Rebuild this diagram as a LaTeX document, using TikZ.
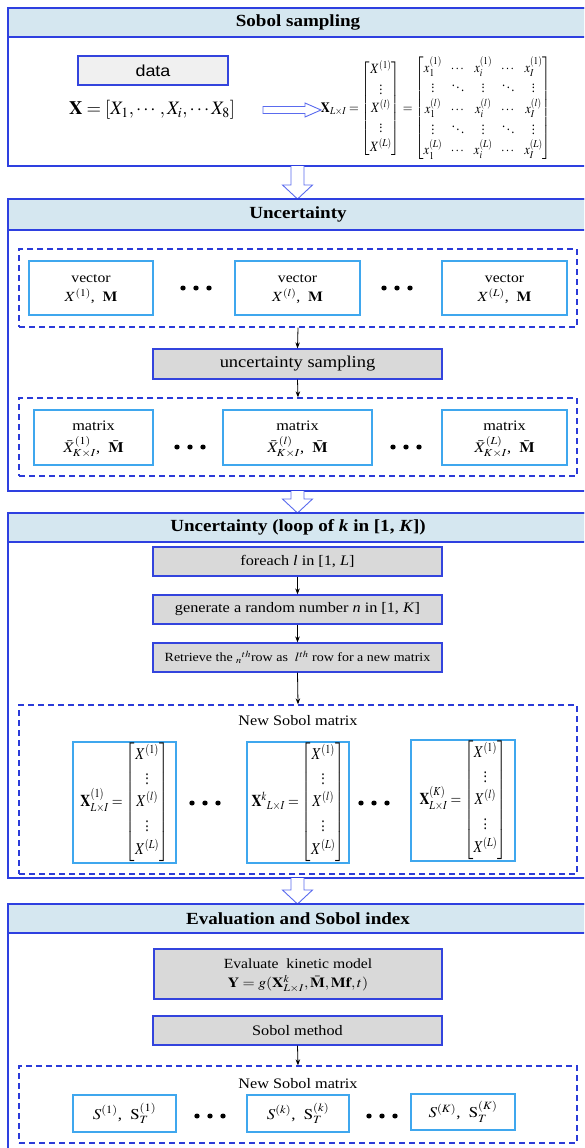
\documentclass[tikz,border=0pt]{standalone}
\usepackage{amsmath}
\usepackage{mathptmx}
\usepackage{fontspec}
\setmainfont{Liberation Serif}
\newfontfamily\arialf{Liberation Sans}
\usetikzlibrary{arrows.meta,calc}
\definecolor{secblue}{HTML}{2E40E0}
\definecolor{headfill}{HTML}{D5E7F0}
\definecolor{dashblue}{HTML}{2B3BD8}
\definecolor{innerblue}{HTML}{3FA7EE}
\definecolor{boxblue}{HTML}{3344DD}
\definecolor{grayfill}{HTML}{D9D9D9}
\definecolor{datafill}{HTML}{F0F0F0}
\definecolor{arrowblue}{HTML}{5A6BEE}
\newcommand\hsx[1]{\scalebox{1.12}[1]{#1}}
\newcommand\twoline[2]{\begin{tabular}{@{}c@{}}#1\\#2\end{tabular}}
\newcommand\boxat[7]{\node[#2, minimum width={#5pt-#3pt}, minimum height={#6pt-#4pt}] (#1) at ({(#3+#5)/2},{(#4+#6)/2}) {#7};}
\newcommand\threedots[3]{\node[inner sep=0pt,minimum size=0pt] (#1) at (#2,#3) {};
  \foreach \dx in {-13,0,13} \fill ($(#1)+(\dx,0)$) circle[x radius=2.7, y radius=2.5];}
\newcommand\hollowdown[3]{\draw[hollow] ($(#1)+(-6.5,0)$) -- ++(0,#2) -- ++(-8.5,0) -- ++(15,#3) -- ++(15,-#3) -- ++(-8.5,0) -- ++(0,-#2);}
\begin{document}
\begin{tikzpicture}[x=1pt,y=-1pt,
 sect/.style={draw=secblue,line width=1.4pt,inner sep=0pt},
 headbox/.style={draw=secblue,fill=headfill,line width=1.4pt,inner sep=0pt},
 ttl/.style={inner sep=0pt,font=\fontsize{17}{20}\selectfont\bfseries},
 dbox/.style={draw=dashblue,line width=1.3pt,dash pattern=on 6pt off 4pt,inner sep=0pt},
 vbox/.style={draw=innerblue,line width=1.3pt,fill=white,inner sep=0pt,font=\fontsize{14}{19}\selectfont},
 gbox/.style={draw=boxblue,fill=grayfill,line width=1.2pt,inner sep=0pt,font=\fontsize{14.5}{19}\selectfont},
 databox/.style={draw=boxblue,fill=datafill,line width=1.2pt,inner sep=0pt,font=\fontsize{16}{19}\selectfont},
 txt/.style={inner sep=0pt,font=\fontsize{14.5}{18}\selectfont},
 arr/.style={-{Stealth[length=6pt,width=4.5pt]},line width=0.8pt},
 hollow/.style={draw=arrowblue,fill=white,line width=0.9pt,line join=miter}
]
\useasboundingbox (0,0) rectangle (584,1148);
\begin{scope}
\clip (0,0) rectangle (584,1148);
% ---------- Section 1 ----------
\boxat{s1}{sect}{8}{8}{620}{166}{}
\boxat{h1}{headbox}{8}{8}{620}{37}{}
\node[ttl] (t1) at (298,22.5) {\hsx{Sobol sampling}};
\boxat{data}{databox}{78}{56}{228}{85}{\hsx{\arialf data}}
\node[txt] (xvec) at (152,110) {\resizebox*{166pt}{19pt}{$\mathbf{X}=[X_1,\cdots,X_i,\cdots X_8]$}};
\coordinate (ha) at (263,110);
\draw[hollow] ($(ha)+(0,-3.5)$) -- ++(42,0) -- ++(0,-3.5) -- ++(16,7) -- ++(-16,7) -- ++(0,-3.5) -- ++(-42,0) -- cycle;
\node[txt] (xmat) at (436,108.5) {\resizebox*{230pt}{103pt}{$\mathbf{X}_{L\times I}=\begin{bmatrix}X^{(1)}\\ \vdots\\ X^{(l)}\\ \vdots\\ X^{(L)}\end{bmatrix}=\begin{bmatrix}x_1^{(1)}&\cdots&x_i^{(1)}&\cdots&x_I^{(1)}\\ \vdots&\ddots&\vdots&\ddots&\vdots\\ x_1^{(l)}&\cdots&x_i^{(l)}&\cdots&x_I^{(l)}\\ \vdots&\ddots&\vdots&\ddots&\vdots\\ x_1^{(L)}&\cdots&x_i^{(L)}&\cdots&x_I^{(L)}\end{bmatrix}$}};
\coordinate (a1) at (297.5,166);
\hollowdown{a1}{19}{14}
% ---------- Section 2 ----------
\boxat{s2}{sect}{8}{199}{620}{491}{}
\boxat{h2}{headbox}{8}{199}{620}{230}{}
\node[ttl] (t2) at (298,214.5) {\hsx{Uncertainty}};
\boxat{d1}{dbox}{19}{249}{577}{327}{}
\boxat{v1}{vbox}{29}{261}{153}{315}{\hsx{\twoline{vector}{$X^{(1)}$,~~$\mathbf{M}$}}}
\boxat{v2}{vbox}{235}{261}{360}{315}{\hsx{\twoline{vector}{$X^{(l)}$,~~$\mathbf{M}$}}}
\boxat{v3}{vbox}{442}{261}{567}{315}{\hsx{\twoline{vector}{$X^{(L)}$,~~$\mathbf{M}$}}}
\threedots{dv1}{196}{288}
\threedots{dv2}{397}{288}
\boxat{us}{gbox,font=\fontsize{16.5}{19}\selectfont}{153}{349}{442}{379}{\hsx{uncertainty sampling}}
\boxat{d2}{dbox}{19}{398}{577}{476}{}
\boxat{m1}{vbox,font=\fontsize{14.5}{20}\selectfont}{34}{410}{153}{465}{\hsx{\twoline{matrix}{$\bar{X}^{(1)}_{K\times I}$,~~$\bar{\mathbf{M}}$}}}
\boxat{m2}{vbox,font=\fontsize{14.5}{20}\selectfont}{223}{410}{372}{465}{\hsx{\twoline{matrix}{$\bar{X}^{(l)}_{K\times I}$,~~$\bar{\mathbf{M}}$}}}
\boxat{m3}{vbox,font=\fontsize{14.5}{20}\selectfont}{442}{410}{567}{465}{\hsx{\twoline{matrix}{$\bar{X}^{(L)}_{K\times I}$,~~$\bar{\mathbf{M}}$}}}
\threedots{dm1}{190}{447}
\threedots{dm2}{406}{447}
\draw[arr] (d1.south) -- (us.north);
\draw[arr] (us.south) -- (d2.north);
\coordinate (a2) at (297.5,491);
\hollowdown{a2}{8}{14}
% ---------- Section 3 ----------
\boxat{s3}{sect}{8}{513}{620}{878}{}
\boxat{h3}{headbox}{8}{513}{620}{542}{}
\node[ttl] (t3) at (298,527.5) {\hsx{Uncertainty (loop of \textit{k} in [1, \textit{K}])}};
\boxat{fe}{gbox}{153}{547}{442}{576}{\hsx{foreach \textit{l} in [1, \textit{L}]}}
\boxat{gen}{gbox}{153}{595}{442}{624}{\hsx{generate a random number \textit{n} in [1, \textit{K}]}}
\boxat{ret}{gbox,font=\fontsize{12.5}{15}\selectfont}{153}{643}{442}{672}{\hsx{Retrieve the ${}_{n}{}^{th}$row as~ $l^{th}$ row for a new matrix}}
\boxat{d3}{dbox}{19}{705}{577}{874}{}
\node[txt] (nsm1) at (298,721) {\hsx{New Sobol matrix}};
\boxat{mb1}{vbox}{73}{742}{176}{863}{\resizebox*{88pt}{119pt}{$\mathbf{X}^{(1)}_{L\times I}=\begin{bmatrix}X^{(1)}\\ \vdots\\ X^{(l)}\\ \vdots\\ X^{(L)}\end{bmatrix}$}}
\boxat{mb2}{vbox}{247}{742}{349}{863}{\resizebox*{93pt}{119pt}{$\mathbf{X}^{k}{}_{L\times I}=\begin{bmatrix}X^{(1)}\\ \vdots\\ X^{(l)}\\ \vdots\\ X^{(L)}\end{bmatrix}$}}
\boxat{mb3}{vbox}{411}{740}{515}{861}{\resizebox*{87pt}{119pt}{$\mathbf{X}^{(K)}_{L\times I}=\begin{bmatrix}X^{(1)}\\ \vdots\\ X^{(l)}\\ \vdots\\ X^{(L)}\end{bmatrix}$}}
\threedots{dx1}{205}{803}
\threedots{dx2}{374}{803}
\draw[arr] (fe.south) -- (gen.north);
\draw[arr] (gen.south) -- (ret.north);
\draw[arr] (ret.south) -- (d3.north);
\coordinate (a3) at (297.5,878);
\hollowdown{a3}{12}{14}
% ---------- Section 4 ----------
\boxat{s4}{sect}{8}{904}{620}{1170}{}
\boxat{h4}{headbox}{8}{904}{620}{933}{}
\node[ttl] (t4) at (298,918.5) {\hsx{Evaluation and Sobol index}};
\boxat{ev}{gbox,font=\fontsize{14}{19}\selectfont}{154}{949}{442}{999}{\hsx{\twoline{Evaluate~ kinetic model}{$\mathbf{Y}=g(\mathbf{X}^{k}_{L\times I},\bar{\mathbf{M}},\mathbf{Mf},t)$}}}
\boxat{sm}{gbox}{153}{1016}{442}{1045}{\hsx{Sobol method}}
\boxat{d4}{dbox}{19}{1066}{577}{1143}{}
\node[txt] (nsm2) at (298,1084) {\hsx{New Sobol matrix}};
\boxat{sb1}{vbox,font=\fontsize{15}{18}\selectfont}{73}{1095}{176}{1132}{\hsx{$S^{(1)}$,~~$\mathrm{S}^{(1)}_T$}}
\boxat{sb2}{vbox,font=\fontsize{15}{18}\selectfont}{247}{1095}{349}{1132}{\hsx{$S^{(k)}$,~~$\mathrm{S}^{(k)}_T$}}
\boxat{sb3}{vbox,font=\fontsize{15}{18}\selectfont}{411}{1094}{515}{1130}{\hsx{$S^{(K)}$,~~$\mathrm{S}^{(K)}_T$}}
\threedots{ds1}{210}{1116}
\threedots{ds2}{382}{1116}
\draw[arr] (sm.south) -- (d4.north);
\end{scope}
\end{tikzpicture}
\end{document}
